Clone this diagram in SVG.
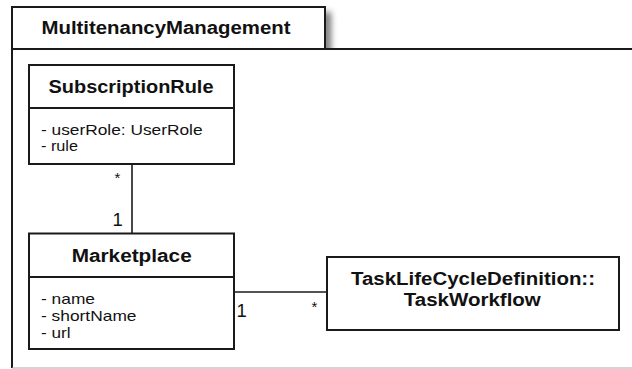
<svg xmlns="http://www.w3.org/2000/svg" width="632" height="369" viewBox="0 0 632 369">
  <defs>
    <style>
      .line { fill: none; stroke: #1a1a1a; stroke-width: 2; }
      .box { fill: #ffffff; stroke: #1a1a1a; stroke-width: 2; }
      .conn { fill: none; stroke: #1a1a1a; stroke-width: 1.6; }
      .title { font-family: "Liberation Sans", Arial, Helvetica, sans-serif; font-weight: bold; font-size: 18px; fill: #111111; text-anchor: middle; }
      .attr { font-family: "Liberation Sans", Arial, Helvetica, sans-serif; font-size: 15px; fill: #111111; }
      .mult { font-family: "Liberation Sans", Arial, Helvetica, sans-serif; font-size: 18.5px; fill: #111111; }
      .star { font-family: "Liberation Sans", Arial, Helvetica, sans-serif; font-size: 15px; fill: #111111; text-anchor: middle; }
    </style>
    <filter id="soft" x="-100%" y="-50%" width="300%" height="200%">
      <feGaussianBlur stdDeviation="3"/>
    </filter>
    <clipPath id="tabShadowClip">
      <rect x="326" y="0" width="30" height="48"/>
    </clipPath>
  </defs>

  <rect width="632" height="369" fill="#ffffff"/>

  <!-- package frame -->
  <g id="package-MultitenancyManagement">
    <g clip-path="url(#tabShadowClip)">
      <rect x="322" y="12" width="9" height="44" fill="#777777" filter="url(#soft)"/>
    </g>
    <rect x="12" y="7" width="313" height="42" fill="#ffffff"/>
    <path class="line" d="M12 368 V7 H325 V49"/>
    <line class="line" x1="12" y1="49" x2="632" y2="49"/>
    <line x1="12" y1="368" x2="632" y2="368" stroke="#a8a8a8" stroke-width="1.2"/>
    <text class="title" x="166" y="33.5" font-size="18.5" textLength="249" lengthAdjust="spacingAndGlyphs">MultitenancyManagement</text>
  </g>

  <!-- connectors -->
  <g id="connectors">
    <line class="conn" x1="132" y1="164" x2="132" y2="233.5"/>
    <text class="star" x="117.5" y="182.5">*</text>
    <text class="mult" x="112.5" y="226">1</text>

    <line class="conn" x1="234" y1="292" x2="327" y2="292"/>
    <text class="mult" x="236.5" y="316.7">1</text>
    <text class="star" x="314.5" y="311.5">*</text>
  </g>

  <!-- SubscriptionRule -->
  <g id="SubscriptionRule">
    <rect class="box" x="29" y="65" width="205" height="99"/>
    <line class="line" x1="29" y1="108" x2="234" y2="108"/>
    <text class="title" x="131" y="92.7" textLength="165" lengthAdjust="spacingAndGlyphs">SubscriptionRule</text>
    <text class="attr" x="41" y="135" textLength="161.5" lengthAdjust="spacingAndGlyphs">- userRole: UserRole</text>
    <text class="attr" x="41" y="151" textLength="37" lengthAdjust="spacingAndGlyphs">- rule</text>
  </g>

  <!-- Marketplace -->
  <g id="Marketplace">
    <rect class="box" x="29" y="233.5" width="205" height="115.5"/>
    <line class="line" x1="29" y1="277" x2="234" y2="277"/>
    <text class="title" x="131.7" y="261.8" textLength="120" lengthAdjust="spacingAndGlyphs">Marketplace</text>
    <text class="attr" x="41" y="304.3" textLength="54" lengthAdjust="spacingAndGlyphs">- name</text>
    <text class="attr" x="41" y="321.3" textLength="95.5" lengthAdjust="spacingAndGlyphs">- shortName</text>
    <text class="attr" x="41" y="337.8" textLength="29.5" lengthAdjust="spacingAndGlyphs">- url</text>
  </g>

  <!-- TaskLifeCycleDefinition::TaskWorkflow -->
  <g id="TaskWorkflow">
    <rect class="box" x="327" y="257" width="292" height="73"/>
    <text class="title" x="473" y="285" textLength="244" lengthAdjust="spacingAndGlyphs">TaskLifeCycleDefinition::</text>
    <text class="title" x="472.3" y="306" textLength="137" lengthAdjust="spacingAndGlyphs">TaskWorkflow</text>
  </g>
</svg>
